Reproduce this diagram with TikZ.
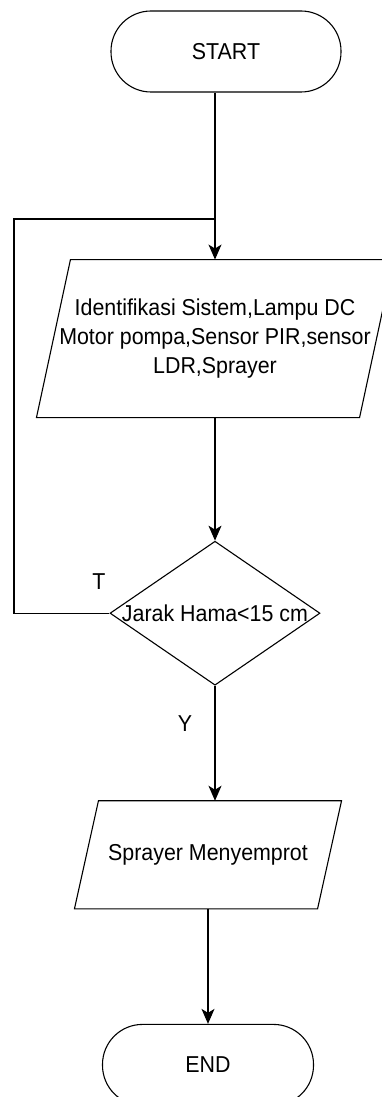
\documentclass[tikz,border=0pt]{standalone}
\usepackage{fontspec}
\setmainfont[FakeStretch=0.93]{Liberation Sans}
\usetikzlibrary{positioning,arrows.meta,shapes.geometric}

\begin{document}
\begin{tikzpicture}[
  x=1pt, y=-1pt,
  node distance=115pt,
  font=\fontsize{23}{29}\selectfont,
  line width=1.1pt,
  term/.style={draw, rounded corners=40pt, minimum width=230pt,
               minimum height=81pt, align=center},
  io/.style={minimum height=157pt, minimum width=322pt, align=center,
             inner sep=0pt},
  cond/.style={draw, diamond, shape aspect=1.46, minimum width=210pt,
               minimum height=144pt, inner xsep=-2pt, inner ysep=0pt,
               align=center},
  arr/.style={-{Stealth[length=15pt, width=13pt, inset=4pt]}},
  lbl/.style={inner sep=0pt}
]
  \useasboundingbox (0,0) rectangle (382,1097);

  % Terminal and process boxes
  \node[term] (start) at (226,51.5) {START};
  \node[io, below=167pt of start, xshift=-11pt] (ident)
    {Identifikasi Sistem,Lampu DC\\Motor pompa,Sensor PIR,sensor\\LDR,Sprayer};
  \node[cond, below=123pt of ident] (jarak) {Jarak Hama<15 cm};
  \node[io, minimum width=242pt, minimum height=107pt,
        below=of jarak, xshift=-7pt] (spray) {Sprayer Menyemprot};
  \node[term, minimum width=211pt, below=of spray] (end) {END};

  % Parallelogram outlines
  \draw ([xshift=17pt]ident.north west) -- ([xshift=17pt]ident.north east)
    -- ([xshift=-17pt]ident.south east) -- ([xshift=-17pt]ident.south west) -- cycle;
  \draw ([xshift=12pt]spray.north west) -- ([xshift=12pt]spray.north east)
    -- ([xshift=-12pt]spray.south east) -- ([xshift=-12pt]spray.south west) -- cycle;

  % Loop back coordinates
  \coordinate (join) at (215,219);
  \coordinate (back) at (14,219);

  % Connectors
  \draw[arr] (start.south -| ident.north) -- (ident.north);
  \draw[arr] (ident.south) -- (jarak.north);
  \draw[arr] (jarak.south) -- (jarak.south |- spray.north);
  \draw[arr] (spray.south) -- (end.north);
  \draw (jarak.west) -| (back) -- (join);

  % Branch labels
  \node[lbl] (tlbl) at (99,582) {T};
  \node[lbl] (ylbl) at (185,724) {Y};
\end{tikzpicture}
\end{document}
